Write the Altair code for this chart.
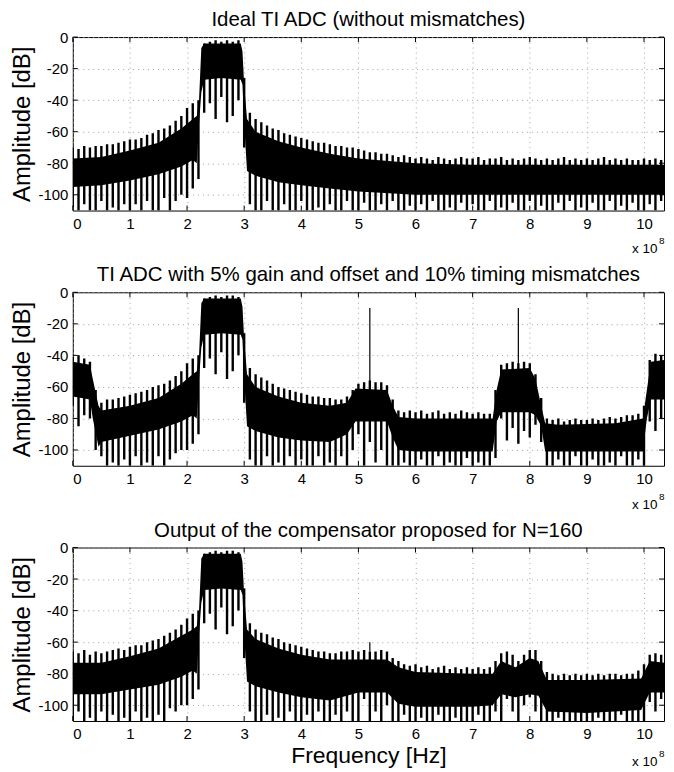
import altair as alt
import pandas as pd

# ---------------- data (frequency in units of 1e8 Hz, amplitude in dB) ----------------
FREQ = [round(0.1 * i, 1) for i in range(104)]  # sample grid 0.0 .. 10.3

TITLES = [
    "Ideal TI ADC (without mismatches)",
    "TI ADC with 5% gain and offset and 10% timing mismatches",
    "Output of the compensator proposed for N=160",
]

# panel 1 : tooth tops / spike bottoms
PEAK1 = [-70, -71, -69, -70, -69, -69, -68, -68, -67, -66,
         -65, -65, -64, -62, -61, -59, -58, -56, -53, -50,
         -45, -42, -40, -4, -3, -2, -3, -2, -3, -2,
         -26, -48, -52, -54, -56, -58, -59, -61, -62, -63,
         -64, -65, -66, -67, -67, -68, -69, -69, -70, -70,
         -71, -72, -73, -73, -74, -74, -75, -76, -75, -76,
         -77, -76, -77, -78, -76, -77, -78, -77, -76, -77,
         -77, -76, -78, -77, -77, -76, -78, -77, -78, -77,
         -76, -77, -78, -77, -78, -77, -76, -78, -77, -78,
         -77, -78, -77, -76, -78, -77, -78, -77, -78, -78,
         -77, -78, -77, -78]
LOW1 = [-108, -110, -106, -110, -110, -104, -110, -108, -110, -106,
        -110, -106, -110, -104, -110, -110, -102, -110, -104, -100,
        -102, -96, -90, -48, -42, -52, -38, -54, -50, -40,
        -70, -106, -110, -110, -104, -110, -110, -106, -110, -110,
        -104, -110, -110, -108, -110, -106, -110, -110, -104, -110,
        -110, -105, -110, -110, -106, -110, -104, -110, -110, -107,
        -110, -106, -110, -104, -110, -110, -108, -110, -105, -110,
        -106, -110, -110, -104, -110, -108, -110, -105, -110, -110,
        -104, -110, -107, -110, -110, -105, -110, -104, -110, -108,
        -110, -105, -110, -110, -104, -110, -107, -110, -105, -110,
        -110, -106, -110, -104]
# panel 1 : solid body (break points)
BODY_F1 = [0.0, 0.5, 1.0, 1.5, 1.9, 2.1, 2.17, 2.21, 2.25, 2.3, 2.6, 2.94, 2.97,
           3.0, 3.05, 3.2, 3.6, 4.0, 4.5, 5.0, 6.0, 7.0, 8.0, 9.0, 10.35]
BODY_TOP1 = [-77, -76, -72, -67, -58, -52, -50, -40, -7, -4, -4, -4, -9,
             -30, -52, -60, -66, -70, -74, -77, -80, -81, -81, -81, -81]
BODY_BOT1 = [-95, -94, -91, -87, -82, -78, -80, -55, -35, -27, -26, -27, -30,
             -55, -85, -88, -92, -94, -96, -98, -100, -100, -100, -100, -100]

# panel 2
PEAK2 = [-41, -40, -42, -44, -62, -70, -68, -68, -67, -66,
         -65, -64, -63, -62, -60, -59, -58, -56, -53, -50,
         -45, -42, -40, -4, -3, -2, -3, -2, -2, -3,
         -26, -48, -52, -54, -56, -58, -60, -61, -62, -63,
         -64, -65, -66, -66, -67, -67, -68, -68, -66, -62,
         -58, -57, -56, -57, -57, -59, -68, -75, -76, -75,
         -76, -75, -77, -76, -75, -77, -76, -77, -75, -76,
         -77, -76, -77, -77, -62, -46, -45, -44, -45, -44,
         -45, -52, -67, -80, -81, -80, -82, -81, -80, -81,
         -81, -80, -81, -80, -79, -80, -79, -78, -78, -77,
         -72, -43, -39, -40]
LOW2 = [-72, -85, -78, -80, -100, -104, -110, -108, -110, -106,
        -110, -104, -110, -108, -110, -104, -110, -106, -102, -100,
        -100, -96, -90, -48, -42, -52, -38, -55, -50, -40,
        -70, -106, -110, -110, -104, -110, -108, -110, -104, -110,
        -106, -110, -110, -104, -110, -108, -110, -104, -110, -100,
        -90, -110, -95, -108, -100, -110, -110, -110, -108, -110,
        -110, -106, -110, -110, -104, -110, -108, -110, -110, -105,
        -110, -108, -110, -110, -105, -80, -94, -86, -96, -88,
        -92, -84, -95, -110, -110, -106, -110, -110, -104, -110,
        -110, -106, -110, -110, -108, -110, -104, -110, -110, -106,
        -110, -82, -88, -80]
BODY_F2 = [0.0, 0.3, 0.35, 0.45, 0.5, 1.0, 1.5, 1.9, 2.1, 2.17, 2.21, 2.25, 2.3, 2.6,
           2.94, 2.97, 3.0, 3.05, 3.2, 3.6, 4.0, 4.5, 4.8, 4.95, 5.5, 5.6, 5.7, 6.0,
           7.0, 7.35, 7.42, 7.5, 8.0, 8.1, 8.2, 8.27, 8.5, 9.5, 9.98, 10.05, 10.12, 10.35]
BODY_TOP2 = [-44, -46, -55, -72, -75, -72, -67, -58, -52, -50, -40, -7, -4, -4,
             -4, -9, -30, -52, -60, -66, -70, -72, -70, -61, -62, -72, -79, -80,
             -80, -80, -62, -49, -48, -55, -72, -83, -84, -83, -80, -62, -44, -43]
BODY_BOT2 = [-66, -68, -80, -98, -95, -91, -87, -82, -78, -80, -55, -35, -27, -26,
             -27, -30, -55, -85, -88, -92, -94, -95, -90, -82, -82, -92, -100, -101,
             -101, -101, -82, -76, -76, -78, -85, -101, -101, -101, -101, -80, -68, -68]
SPUR_F2 = [5.2, 7.8]
SPUR_TOP2 = [-10, -10]
SPUR_BASE2 = [-60, -46]

# panel 3
PEAK3 = [-66, -67, -65, -68, -66, -67, -66, -65, -64, -65,
         -63, -62, -62, -60, -59, -58, -56, -54, -52, -49,
         -45, -42, -40, -4, -3, -2, -3, -2, -2, -3,
         -26, -48, -52, -54, -55, -57, -58, -60, -61, -62,
         -63, -64, -65, -66, -66, -67, -67, -66, -66, -65,
         -66, -65, -66, -66, -65, -66, -70, -72, -74, -75,
         -74, -76, -75, -77, -76, -75, -77, -76, -77, -76,
         -77, -76, -77, -76, -72, -67, -66, -68, -72, -68,
         -65, -65, -72, -79, -80, -81, -80, -81, -80, -81,
         -80, -81, -80, -81, -80, -80, -81, -80, -80, -78,
         -74, -68, -67, -68]
LOW3 = [-110, -104, -110, -108, -110, -104, -110, -106, -110, -108,
        -110, -104, -110, -108, -110, -106, -110, -102, -104, -100,
        -100, -96, -90, -48, -42, -52, -38, -55, -50, -40,
        -70, -104, -110, -110, -106, -110, -108, -110, -104, -110,
        -110, -106, -110, -104, -110, -110, -106, -110, -104, -110,
        -110, -96, -110, -104, -110, -100, -110, -110, -106, -110,
        -110, -108, -110, -110, -106, -110, -110, -108, -110, -110,
        -110, -106, -110, -110, -104, -110, -96, -104, -110, -100,
        -95, -104, -110, -110, -110, -108, -110, -110, -110, -110,
        -110, -110, -108, -110, -110, -110, -106, -110, -110, -110,
        -110, -98, -104, -96]
BODY_F3 = [0.0, 0.5, 1.0, 1.5, 1.9, 2.1, 2.17, 2.21, 2.25, 2.3, 2.6, 2.94, 2.97,
           3.0, 3.05, 3.2, 3.6, 4.0, 4.5, 5.0, 5.5, 5.7, 6.0, 7.0, 7.35, 7.5, 7.75,
           8.0, 8.15, 8.3, 9.0, 9.95, 10.1, 10.35]
BODY_TOP3 = [-73, -73, -69, -64, -56, -52, -50, -40, -7, -4, -4, -4, -9,
             -30, -52, -58, -64, -68, -71, -71, -71, -76, -79, -80, -80, -72, -76,
             -70, -72, -84, -84, -83, -72, -73]
BODY_BOT3 = [-93, -93, -90, -87, -82, -78, -80, -55, -35, -27, -26, -27, -30,
             -55, -85, -88, -92, -95, -97, -92, -92, -99, -101, -101, -100, -93, -95,
             -93, -94, -104, -105, -103, -92, -92]
SPUR_F3 = [5.2]
SPUR_TOP3 = [-60]
SPUR_BASE3 = [-66]

X_TICKS = list(range(11))
Y_TICKS = [-100, -80, -60, -40, -20, 0]
SCALE_TEXT = ["x 10"]
SCALE_EXP = ["8"]

# ---------------- styling ----------------
W, H = 593, 174
FONT = "Liberation Sans"
GRID = dict(grid=True, gridDash=[1, 4], gridColor="#a0a0a0", gridWidth=1)
xs = alt.Scale(domain=[0, 10.35], nice=False, zero=False)
ys = alt.Scale(domain=[-110, 0], nice=False, zero=False)


def xaxis(title):
    kw = dict(values=X_TICKS, domain=False, ticks=False, labelFontSize=15, labelPadding=6,
              labelColor="black", labelFont=FONT, format="d", **GRID)
    if title:
        kw.update(title=title, titleFont=FONT, titleFontSize=23, titleFontWeight="normal",
                  titleColor="black", titleY=41.6, titleBaseline="alphabetic")
    else:
        kw.update(title=None)
    return alt.Axis(**kw)


def yaxis():
    return alt.Axis(values=Y_TICKS, domain=False, ticks=False, labelFontSize=15,
                    labelPadding=5, labelColor="black", labelFont=FONT,
                    labelExpr="'' + datum.value",
                    title="Amplitude [dB]", titleFont=FONT, titleFontSize=24,
                    titleFontWeight="normal", titleColor="black", titleAngle=270,
                    titleX=-43.5, titleY=H / 2, titleBaseline="alphabetic",
                    titleAlign="center", **GRID)


def panel(title, peak, low, bf, bt, bb, spur=None, xtitle=None, exp_y=43):
    X = lambda f: alt.X(f, type="quantitative", scale=xs, axis=xaxis(xtitle))
    Y = lambda f: alt.Y(f, type="quantitative", scale=ys, axis=yaxis())

    body = alt.Chart(pd.DataFrame({"f": bf, "top": bt, "bot": bb})).mark_area(
        color="black", clip=True, interpolate="linear"
    ).encode(x=X("f"), y=Y("top"), y2="bot")

    teeth = alt.Chart(pd.DataFrame({"f": FREQ, "peak": peak, "low": low})).mark_rule(
        color="black", strokeWidth=2.4, clip=True
    ).encode(x=X("f"), y=Y("peak"), y2="low")

    layers = [body, teeth]
    if spur is not None:
        sf, st, sb = spur
        layers.append(
            alt.Chart(pd.DataFrame({"f": sf, "top": st, "base": sb})).mark_rule(
                color="black", strokeWidth=1.2, clip=True
            ).encode(x=X("f"), y=Y("top"), y2="base")
        )

    xt = pd.DataFrame({"v": X_TICKS})
    yt = pd.DataFrame({"v": Y_TICKS})
    layers += [
        alt.Chart(xt).mark_rule(color="black").encode(x=X("v"), y=alt.value(H), y2=alt.value(H - 5)),
        alt.Chart(xt).mark_rule(color="black").encode(x=X("v"), y=alt.value(0), y2=alt.value(5)),
        alt.Chart(yt).mark_rule(color="black").encode(y=Y("v"), x=alt.value(0), x2=alt.value(5)),
        alt.Chart(yt).mark_rule(color="black").encode(y=Y("v"), x=alt.value(W), x2=alt.value(W - 5)),
        alt.Chart(pd.DataFrame({"t": SCALE_TEXT})).mark_text(
            font=FONT, fontSize=13.5, align="right", baseline="alphabetic", color="black"
        ).encode(text="t:N", x=alt.value(W - 6.5), y=alt.value(H + exp_y)),
        alt.Chart(pd.DataFrame({"t": SCALE_EXP})).mark_text(
            font=FONT, fontSize=10, align="left", baseline="alphabetic", color="black"
        ).encode(text="t:N", x=alt.value(W - 5), y=alt.value(H + exp_y - 9)),
        alt.Chart(pd.DataFrame({"t": [title]})).mark_text(
            font=FONT, fontSize=20.5, align="center", baseline="alphabetic", color="black"
        ).encode(text="t:N", x=alt.value(W / 2), y=alt.value(-11)),
    ]
    return alt.layer(*layers).properties(width=W, height=H)


p1 = panel(TITLES[0], PEAK1, LOW1, BODY_F1, BODY_TOP1, BODY_BOT1)
p2 = panel(TITLES[1], PEAK2, LOW2, BODY_F2, BODY_TOP2, BODY_BOT2,
           spur=(SPUR_F2, SPUR_TOP2, SPUR_BASE2))
p3 = panel(TITLES[2], PEAK3, LOW3, BODY_F3, BODY_TOP3, BODY_BOT3,
           spur=(SPUR_F3, SPUR_TOP3, SPUR_BASE3), xtitle="Frequency [Hz]", exp_y=45)

chart = alt.vconcat(p1, p2, p3, spacing=82, bounds="flush").properties(
    padding={"left": 2, "top": 0, "right": 0, "bottom": 0},
    background="white",
).configure_view(stroke="black", strokeWidth=1)

chart.save("out.html", embed_options={"renderer": "svg", "actions": False})
